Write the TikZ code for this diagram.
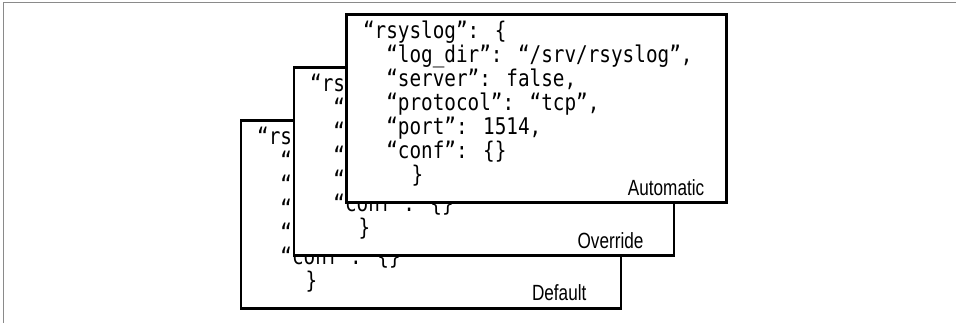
\documentclass[tikz,border=0pt]{standalone}
\usepackage{fontspec}
\newfontfamily\jsonfont[FakeStretch=0.84]{DejaVu Sans Mono}
\newfontfamily\labelfont[FakeStretch=0.78]{Liberation Sans}
\definecolor{framegray}{HTML}{8A8A8A}

% The same JSON attribute block is printed on every card
\newcommand\jsonblock{\vtop{\baselineskip=24pt\lineskiplimit=-30pt\lineskip=0pt
  \hbox{“rsyslog”: \{}
  \hbox{\phantom{xx}“log\_dir”: “/srv/rsyslog”,}
  \hbox{\phantom{xx}“server”: false,}
  \hbox{\phantom{xx}“protocol”: “tcp”,}
  \hbox{\phantom{xx}“port”: 1514,}
  \hbox{\phantom{xx}“conf”: \{\}}
  \hbox{\phantom{xxxx}\kern2pt\}}}}

\tikzset{
  card/.style={draw=black, fill=white, line width=2.6pt, inner sep=0pt,
    minimum width=380pt, minimum height=188pt, anchor=north west},
  json/.style={inner sep=0pt, anchor=base west,
    font=\jsonfont\fontsize{23}{24}\selectfont},
  level/.style={inner sep=0pt, anchor=base east,
    font=\labelfont\fontsize{22}{24}\selectfont},
}

\begin{document}
\begin{tikzpicture}[x=1pt,y=1pt]
\useasboundingbox (0,0) rectangle (956,323);
% cropped page frame
\draw[framegray, line width=1.4pt] (3.2,0) -- (3.2,320.4) -- (956,320.4);

% Default card (back)
\node[card] (def) at (239.5,203.7) {};
\node[json] (deftext) at ([shift={(17.5,-25)}]def.north west) {\jsonblock};
\node[level] (deflabel) at ([shift={(-35.5,9)}]def.south east) {Default};

% Override card (middle)
\node[card] (ovr) at (292.5,256.5) {};
\node[json] (ovrtext) at ([shift={(17.5,-25)}]ovr.north west) {\jsonblock};
\node[level] (ovrlabel) at ([shift={(-31.5,9)}]ovr.south east) {Override};

% Automatic card (front)
\node[card] (auto) at (345.3,309.5) {};
\node[json] (autotext) at ([shift={(17.5,-25)}]auto.north west) {\jsonblock};
\node[level] (autolabel) at ([shift={(-23.5,9)}]auto.south east) {Automatic};
\end{tikzpicture}
\end{document}
